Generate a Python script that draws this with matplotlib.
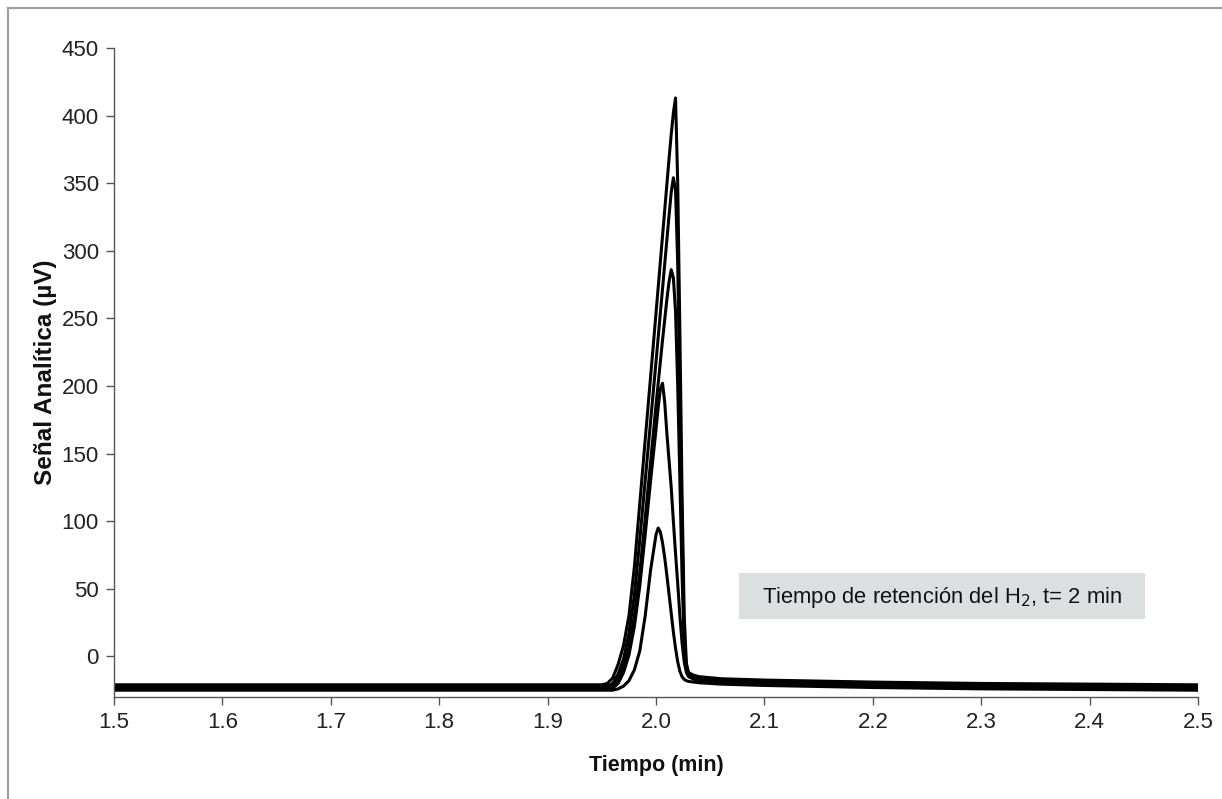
import matplotlib
matplotlib.use("Agg")
import matplotlib.pyplot as plt
from matplotlib.patches import Rectangle
from matplotlib.lines import Line2D

plt.rcParams['font.family'] = ['Liberation Sans', 'DejaVu Sans']

# tiempo (min), rejilla comun para los 5 cromatogramas
tiempo = [1.5, 1.6, 1.7, 1.8, 1.9, 1.95, 1.955, 1.96, 1.965, 1.97, 1.975, 1.98,
          1.985, 1.99, 1.995, 2.0, 2.002, 2.004, 2.006, 2.008, 2.01, 2.012,
          2.014, 2.016, 2.018, 2.02, 2.022, 2.024, 2.026, 2.028, 2.03, 2.035,
          2.04, 2.06, 2.1, 2.2, 2.3, 2.4, 2.5]

senal_1 = [-21, -21, -21, -21, -21, -21, -20, -16, -6, 8, 30, 66,
           113, 160, 207, 254, 273, 292, 311, 330, 349, 368,
           386, 402, 413, 350, 240, 120, 30, -5, -12, -14,
           -15, -16.5, -17.5, -19, -20, -20.5, -21]

senal_2 = [-22, -22, -22, -22, -22, -22, -22, -20, -13, -2, 17, 45,
           86, 130, 174, 218, 236, 254, 272, 290, 308, 326,
           343, 354, 345, 290, 190, 95, 15, -8, -13, -15,
           -16, -17.5, -18.5, -20, -21, -21.5, -22]

senal_3 = [-23, -23, -23, -23, -23, -23, -23, -22, -17, -8, 7, 30,
           62, 102, 144, 186, 202, 218, 234, 249, 264, 277,
           286, 280, 255, 200, 130, 60, 8, -9, -14, -16,
           -17, -18.5, -19.5, -21, -22, -22.5, -23]

senal_4 = [-24, -24, -24, -24, -24, -24, -24, -23.5, -20, -12, 1, 22,
           52, 90, 130, 168, 184, 198, 202, 188, 165, 145,
           125, 100, 76, 54, 30, 10, -4, -12, -15, -17,
           -18, -19.5, -20.5, -22, -23, -23.5, -24]

senal_5 = [-25, -25, -25, -25, -25, -25, -25, -25, -24, -22, -18, -10,
           4, 30, 64, 90, 95, 92, 84, 73, 60, 46,
           32, 18, 6, -4, -11, -15, -17, -18, -18.5, -19,
           -19.5, -20.5, -21.5, -23, -24, -24.5, -25]

senales = [senal_1, senal_2, senal_3, senal_4, senal_5]

xticks = [1.5, 1.6, 1.7, 1.8, 1.9, 2.0, 2.1, 2.2, 2.3, 2.4, 2.5]
yticks = [0, 50, 100, 150, 200, 250, 300, 350, 400, 450]

fig = plt.figure(figsize=(12.22, 7.99), dpi=100)
ax = fig.add_axes([0.0933, 0.1277, 0.8871, 0.8123])

for s in senales:
    ax.plot(tiempo, s, color='black', linewidth=2.2, solid_joinstyle='round')

ax.set_xlim(1.5, 2.5)
ax.set_ylim(-30, 450)
ax.set_xticks(xticks)
ax.set_xticklabels(['%.1f' % t for t in xticks])
ax.set_yticks(yticks)
ax.spines['top'].set_visible(False)
ax.spines['right'].set_visible(False)
for sp in ['left', 'bottom']:
    ax.spines[sp].set_color('#555555')
    ax.spines[sp].set_linewidth(1.0)
ax.tick_params(direction='out', length=6, width=1, color='#555555',
               labelsize=16, labelcolor='#222222', pad=5)

ax.set_xlabel('Tiempo (min)', fontsize=15.5, fontweight='bold', labelpad=16,
              color='#111111')
ax.set_ylabel('Señal Analítica (µV)', fontsize=17.5, fontweight='bold', labelpad=3,
              color='#111111')

# recuadro del texto
box = Rectangle((739 / 1222, 1 - 619 / 799), 406 / 1222, 46 / 799,
                transform=fig.transFigure, facecolor='#dcdfe0', edgecolor='none')
fig.patches.append(box)
fig.text(942 / 1222, 1 - 598 / 799, 'Tiempo de retención del H$_2$, t= 2 min',
         ha='center', va='center', fontsize=15.8, color='#111111')

# marco gris exterior
fig.lines.append(Line2D([8 / 1222, 8 / 1222], [0, 1 - 8 / 799], transform=fig.transFigure,
                        color='#a0a0a0', linewidth=1.6))
fig.lines.append(Line2D([8 / 1222, 1], [1 - 8 / 799, 1 - 8 / 799], transform=fig.transFigure,
                        color='#a0a0a0', linewidth=1.6))

fig.savefig('out.png', dpi=100)
